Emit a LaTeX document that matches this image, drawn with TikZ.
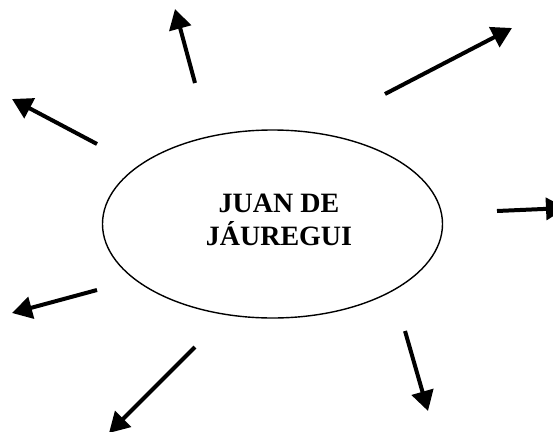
\documentclass[tikz,border=0pt]{standalone}
\usepackage{fontspec}
\setmainfont{Liberation Serif}
\usetikzlibrary{arrows.meta,shapes.geometric}
\begin{document}
\begin{tikzpicture}[x=1pt,y=-1pt,
  hubshape/.style={draw,ellipse,line width=1.4pt,minimum width=340pt,minimum height=188pt,inner sep=0pt},
  hubtext/.style={align=center,font=\fontsize{28pt}{33pt}\selectfont\bfseries,inner sep=0pt},
  ray/.style={line width=4pt,-{Triangle[length=20pt,width=22pt]}}]
\useasboundingbox (0,0) rectangle (553,431);
\clip (0,0) rectangle (553,431);
\node[hubshape] (hub) at (272.5,224) {};
\node[hubtext] (name) at (279,220) {JUAN DE\\JÁUREGUI};
\coordinate (t1) at (195,83);  \coordinate (h1) at (175,9);
\coordinate (t2) at (97,144);  \coordinate (h2) at (12,99);
\coordinate (t3) at (385,94);  \coordinate (h3) at (512,28);
\coordinate (t4) at (497,211); \coordinate (h4) at (566,208);
\coordinate (t5) at (97,290);  \coordinate (h5) at (12,313);
\coordinate (t6) at (195,347); \coordinate (h6) at (109,433);
\coordinate (t7) at (405,331); \coordinate (h7) at (428,411);
\foreach \i in {1,...,7}{\draw[ray] (t\i) -- (h\i);}
\end{tikzpicture}
\end{document}
